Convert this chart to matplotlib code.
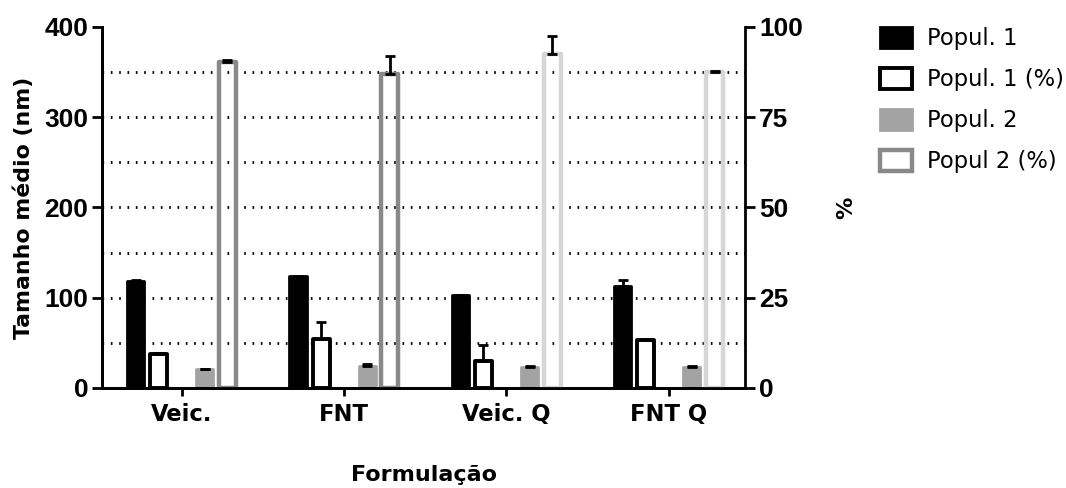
import numpy as np
import matplotlib.pyplot as plt

groups = ['Veic.', 'FNT', 'Veic. Q', 'FNT Q']

# left axis (nm)
pop1_nm = [119, 124, 103, 113]
pop1_nm_err = [1, 0.5, 0.5, 7]
pop2_nm = [20.5, 24, 23, 23.5]
pop2_nm_err = [1, 2.5, 0.8, 0.8]

# right axis (%)
pop1_pct = [9.5, 13.5, 7.6, 13.3]
pop1_pct_err = [0.2, 4.8, 4.4, 0.3]
pop2_pct = [90.4, 87.0, 92.6, 87.4]
pop2_pct_err = [0.3, 5.0, 4.8, 0.3]

pop2_pct_edges = ['#898989', '#898989', '#d6d6d6', '#d6d6d6']

num_font = 'Liberation Sans'
txt_font = 'DejaVu Sans'

fig = plt.figure(figsize=(10.66, 4.88), dpi=100)
ax = fig.add_axes([0.0957, 0.205, 0.6032, 0.740])
ax2 = ax.twinx()

x = np.arange(len(groups))
w = 0.105
off = [-0.283, -0.141, 0.143, 0.282]
zeros = np.zeros(len(groups))

for v in range(50, 400, 50):
    ax.axhline(v, color='black', lw=2, ls=(0, (0.6, 2.4)), zorder=0)

b1 = ax.bar(x + off[0], pop1_nm, w, color='black', edgecolor='black', lw=2,
            joinstyle='round', zorder=2, label='Popul. 1')
ax.errorbar(x + off[0], pop1_nm, yerr=[zeros, pop1_nm_err], fmt='none',
            ecolor='black', elinewidth=2, capsize=3.5, capthick=2, zorder=3)

b3 = ax.bar(x + off[2], pop2_nm, w, color='#a3a3a3', edgecolor='#a3a3a3', lw=2,
            joinstyle='round', zorder=2, label='Popul. 2')
ax.errorbar(x + off[2], pop2_nm, yerr=[zeros, pop2_nm_err], fmt='none',
            ecolor='black', elinewidth=2, capsize=3.5, capthick=2, zorder=3)

b2 = ax2.bar(x + off[1], pop1_pct, w, facecolor='white', edgecolor='black', lw=2.8,
             joinstyle='round', zorder=2, label='Popul. 1 (%)')
ax2.errorbar(x + off[1], pop1_pct, yerr=[zeros, pop1_pct_err], fmt='none',
             ecolor='black', elinewidth=2, capsize=3.5, capthick=2, zorder=3)

b4 = ax2.bar(x + off[3], pop2_pct, w, facecolor='none', edgecolor=pop2_pct_edges, lw=3.2,
             joinstyle='round', zorder=2, label='Popul 2 (%)')
ax2.errorbar(x + off[3], pop2_pct, yerr=[zeros, pop2_pct_err], fmt='none',
             ecolor='black', elinewidth=2, capsize=3.5, capthick=2, zorder=3)

ax.set_xlim(-0.49, 3.47)
ax.set_ylim(0, 400)
ax2.set_ylim(0, 100)
ax.set_yticks(range(0, 401, 100))
ax2.set_yticks(range(0, 101, 25))
ax.set_xticks(x)
ax.set_xticklabels(groups, fontfamily=txt_font, fontweight='bold', fontsize=16.3)

for a in (ax, ax2):
    a.spines['top'].set_visible(False)
    for s in a.spines.values():
        s.set_linewidth(2)
ax.spines['right'].set_visible(False)

ax.tick_params(axis='y', length=7, width=2, pad=3)
ax.tick_params(axis='x', length=6, width=2, pad=5)
ax2.tick_params(axis='y', length=7, width=2, pad=3)
for lab in ax.get_yticklabels() + ax2.get_yticklabels():
    lab.set_fontfamily(num_font)
    lab.set_fontweight('bold')
    lab.set_fontsize(19)

ax.set_ylabel('Tamanho médio (nm)', fontfamily=txt_font, fontweight='bold',
              fontsize=15.8, labelpad=7)
ax.set_xlabel('Formulação', fontfamily=txt_font, fontweight='bold',
              fontsize=16, labelpad=28)
ax2.set_ylabel('%', fontfamily=txt_font, fontweight='bold', fontsize=16, labelpad=24)

fig.legend(handles=[b1, b2, b3, b4], loc='upper left',
           bbox_to_anchor=(0.8145, 0.968), frameon=False, borderpad=0,
           prop={'family': txt_font, 'size': 16.3},
           handlelength=1.45, handleheight=1.05, handletextpad=0.65, labelspacing=0.78)
leg_handles = fig.legends[0].legend_handles
leg_handles[3].set_edgecolor('#898989')

fig.savefig('out.png', dpi=100)
